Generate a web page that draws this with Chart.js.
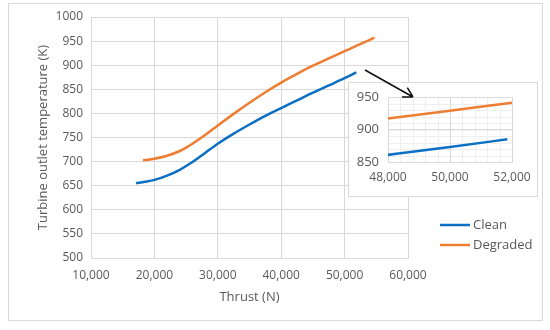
<!DOCTYPE html>
<html lang="en">
<head>
  <meta charset="UTF-8">
  <script src="https://cdn.jsdelivr.net/npm/chart.js@4.4.1/dist/chart.umd.min.js"></script>
  <title>Turbine outlet temperature</title>
  <style>
    body { margin: 0; background: #fff; }
    .wrap { position: relative; width: 550px; height: 330px; }
    .frame {
      position: absolute; left: 8px; top: 3px;
      width: 533px; height: 316px;
      border: 1px solid #d9d9d9;
    }
    #mainChart { position: absolute; left: 0; top: 0; }
    #zoomChart { position: absolute; left: 340px; top: 60px; }
  </style>
</head>
<body>
  <div class="wrap">
    <div class="frame"></div>
    <canvas id="mainChart" width="550" height="330"></canvas>
    <canvas id="zoomChart" width="200" height="140"></canvas>
  </div>

  <script>
    // values
    const seriesNames = ['Clean', 'Degraded'];
    const thrustClean = [17100, 18500, 20000, 22000, 24000, 26000, 28000, 30000, 32500, 35000, 37500, 40000, 42500, 45000, 47500, 50000, 51850];
    const tempClean   = [655, 658, 662, 671, 683, 699, 718, 737, 758, 777, 795, 811, 827, 843, 858, 873, 885];
    const thrustDegraded = [18200, 19000, 20000, 22000, 24000, 25000, 26000, 28000, 30000, 32500, 35000, 37500, 40000, 42500, 45000, 47500, 50000, 52000, 54700];
    const tempDegraded   = [703, 704, 706, 712, 722, 729, 737, 755, 775, 799, 822, 844, 864, 882, 899, 914, 929, 941, 957];

    const xTicksMain = [10000, 60000, 10000];   // min, max, step
    const yTicksMain = [500, 1000, 50];
    const xTicksZoom = [48000, 52000, 2000];
    const yTicksZoom = [850, 950, 50];

    const colors = ['#0b6fc3', '#ee7d31'];
    const textColor = '#595959';
    const gridColor = '#d9d9d9';
    const font = 'Open Sans';

    const toPoints = (xs, ys) => xs.map((x, i) => ({ x: x, y: ys[i] }));
    const fmt = v => v.toLocaleString('en-US');

    function makeDatasets() {
      return [
        { label: seriesNames[0], data: toPoints(thrustClean, tempClean), borderColor: colors[0] },
        { label: seriesNames[1], data: toPoints(thrustDegraded, tempDegraded), borderColor: colors[1] }
      ].map(d => Object.assign(d, { borderWidth: 2.5, pointRadius: 0, tension: 0.4, cubicInterpolationMode: 'monotone', fill: false }));
    }

    // legend drawn to the right of the plot, like the original
    const sideLegend = {
      id: 'sideLegend',
      afterDraw(chart) {
        const ctx = chart.ctx;
        const x0 = chart.chartArea.right + 32;
        const y0 = chart.chartArea.bottom - 33;
        ctx.save();
        ctx.font = '13px "' + font + '"';
        ctx.textBaseline = 'middle';
        chart.data.datasets.forEach((ds, i) => {
          const y = y0 + i * 20;
          ctx.strokeStyle = ds.borderColor;
          ctx.lineWidth = 2.5;
          ctx.beginPath();
          ctx.moveTo(x0, y);
          ctx.lineTo(x0 + 30, y);
          ctx.stroke();
          ctx.fillStyle = textColor;
          ctx.fillText(ds.label, x0 + 33, y);
        });
        ctx.restore();
      }
    };

    new Chart(document.getElementById('mainChart'), {
      type: 'line',
      data: { datasets: makeDatasets() },
      options: {
        responsive: false,
        animation: false,
        layout: { padding: { left: 31, top: 17, right: 142, bottom: 21 } },
        plugins: { legend: { display: false }, tooltip: { enabled: false } },
        scales: {
          x: {
            type: 'linear',
            min: xTicksMain[0], max: xTicksMain[1],
            ticks: { stepSize: xTicksMain[2], autoSkip: false, maxRotation: 0, padding: 10, color: textColor, font: { family: font, size: 12 }, callback: fmt },
            grid: { color: gridColor, drawTicks: false },
            border: { color: gridColor },
            title: { display: true, text: 'Thrust (N)', color: textColor, font: { family: font, size: 13 } },
            afterFit(s) { s.height = 51; }
          },
          y: {
            min: yTicksMain[0], max: yTicksMain[1],
            ticks: { stepSize: yTicksMain[2], padding: 8, color: textColor, font: { family: font, size: 12 }, callback: v => String(v) },
            grid: { color: gridColor, drawTicks: false },
            border: { color: gridColor },
            title: { display: true, text: 'Turbine outlet temperature (K)', color: textColor, font: { family: font, size: 13 } },
            afterFit(s) { s.width = 60; }
          }
        }
      },
      plugins: [sideLegend]
    });

    // white box, fine grid and the arrow for the zoomed view
    const zoomDecor = {
      id: 'zoomDecor',
      beforeDraw(chart) {
        const ctx = chart.ctx;
        const a = chart.chartArea;
        const xs = chart.scales.x, ys = chart.scales.y;
        ctx.save();
        ctx.fillStyle = '#fff';
        ctx.fillRect(8, 22, 190, 115);
        ctx.strokeStyle = gridColor;
        ctx.lineWidth = 1;
        ctx.strokeRect(8.5, 22.5, 189, 114);
        ctx.strokeStyle = '#efefef';
        ctx.beginPath();
        for (let v = xTicksZoom[0]; v <= xTicksZoom[1]; v += 400) {
          const px = Math.round(xs.getPixelForValue(v)) + 0.5;
          ctx.moveTo(px, a.top); ctx.lineTo(px, a.bottom);
        }
        for (let v = yTicksZoom[0]; v <= yTicksZoom[1]; v += 10) {
          const py = Math.round(ys.getPixelForValue(v)) + 0.5;
          ctx.moveTo(a.left, py); ctx.lineTo(a.right, py);
        }
        ctx.stroke();
        ctx.restore();
      },
      afterDraw(chart) {
        const ctx = chart.ctx;
        const a = chart.chartArea;
        const tip = { x: a.left + 25, y: a.top };
        const start = { x: 25, y: 10 };
        const ang = Math.atan2(tip.y - start.y, tip.x - start.x);
        ctx.save();
        ctx.strokeStyle = '#111';
        ctx.lineWidth = 1.5;
        ctx.beginPath();
        ctx.moveTo(start.x, start.y);
        ctx.lineTo(tip.x, tip.y);
        [Math.PI - 0.52, Math.PI + 0.52].forEach(d => {
          ctx.moveTo(tip.x, tip.y);
          ctx.lineTo(tip.x + 11 * Math.cos(ang + d), tip.y + 11 * Math.sin(ang + d));
        });
        ctx.stroke();
        ctx.restore();
      }
    };

    new Chart(document.getElementById('zoomChart'), {
      type: 'line',
      data: { datasets: makeDatasets() },
      options: {
        responsive: false,
        animation: false,
        layout: { padding: { left: 8, top: 37, right: 28, bottom: 3 } },
        plugins: { legend: { display: false }, tooltip: { enabled: false } },
        scales: {
          x: {
            type: 'linear',
            min: xTicksZoom[0], max: xTicksZoom[1],
            ticks: { stepSize: xTicksZoom[2], autoSkip: false, maxRotation: 0, padding: 8, color: textColor, font: { family: font, size: 12 }, callback: fmt },
            grid: { color: gridColor, drawTicks: false },
            border: { color: gridColor },
            afterFit(s) { s.height = 35; }
          },
          y: {
            min: yTicksZoom[0], max: yTicksZoom[1],
            ticks: { stepSize: yTicksZoom[2], padding: 9, color: textColor, font: { family: font, size: 13 } },
            grid: { color: gridColor, drawTicks: false },
            border: { color: gridColor },
            afterFit(s) { s.width = 40; }
          }
        }
      },
      plugins: [zoomDecor]
    });
  </script>
</body>
</html>
